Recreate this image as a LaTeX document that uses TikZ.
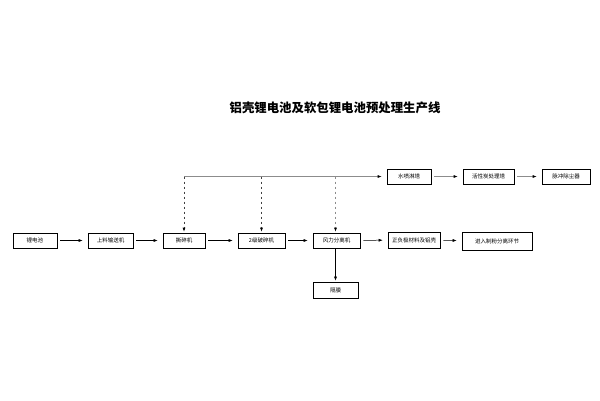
\documentclass[tikz,border=0pt]{standalone}
\usepackage{fontspec}
\newfontfamily\cjk{Noto Sans CJK SC}
\usetikzlibrary{arrows.meta}
\tikzset{
  box/.style={draw=black, line width=0.6pt, minimum height=15pt, inner sep=0pt, font=\cjk\fontsize{5.5}{6}\selectfont, fill=white},
  flow/.style={draw=black, line width=0.5pt, -{Latex[length=4pt,width=3pt]}, shorten >=5pt, shorten <=3pt},
  gas/.style={draw=black!45, line width=0.6pt},
  gasarr/.style={draw=black!45, line width=0.6pt, -{Latex[length=4pt,width=3pt,color=black]}, shorten >=5pt, shorten <=3pt},
  drop/.style={draw=black!75, line width=0.6pt, dashed, dash pattern=on 2.5pt off 2.5pt, -{Latex[length=4pt,width=3pt,color=black]}, shorten >=1pt}
}
\begin{document}
\begin{tikzpicture}[x=1pt,y=-1pt]
\useasboundingbox (0,0) rectangle (600,400);
\node[font=\cjk\bfseries\fontsize{12.4}{14}\selectfont] (title) at (335,108) {铝壳锂电池及软包锂电池预处理生产线};
% main row
\node[box, minimum width=44pt] (li) at (35,240.5) {锂电池};
\node[box, minimum width=45pt] (feed) at (110.5,240.5) {上料输送机};
\node[box, minimum width=42pt] (shred) at (184,240.5) {撕碎机};
\node[box, minimum width=47pt] (crush) at (261.5,240.5) {2级破碎机};
\node[box, minimum width=47pt] (wind) at (336.5,240.5) {风力分离机};
\node[box, minimum width=52pt, minimum height=16pt] (mat) at (414,240) {正负极材料及铝壳};
\node[box, minimum width=70pt, minimum height=18pt] (next) at (497,241) {进入制粉分离环节};
% top row
\node[box, minimum width=44pt] (spray) at (409,176.5) {水喷淋塔};
\node[box, minimum width=51pt] (carbon) at (488.5,176.5) {活性炭处理塔};
\node[box, minimum width=48pt] (pulse) at (566,176.5) {脉冲除尘器};
% bottom
\node[box, minimum width=45pt, minimum height=16pt] (sep) at (335.5,290) {隔膜};
% gas collection line
\coordinate (g1) at (184,176.5);
\coordinate (g2) at (261.5,176.5);
\coordinate (g3) at (335.5,176.5);
\draw[gasarr, shorten <=0pt] (g1) -- (spray);
\draw[gasarr] (spray) -- (carbon);
\draw[gasarr] (carbon) -- (pulse);
\draw[drop] (g1) -- (shred.north);
\draw[drop] (g2) -- (crush.north);
\draw[drop, draw=black!45] (g3) -- (wind.north -| g3);
% flow
\draw[flow] (li) -- (feed);
\draw[flow] (feed) -- (shred);
\draw[flow] (shred) -- (crush);
\draw[flow] (crush) -- (wind);
\draw[flow] (wind) -- (mat);
\draw[flow] (mat) -- (next);
\draw[flow, shorten <=0pt, shorten >=1pt] (wind.south -| sep.north) -- (sep.north);
\end{tikzpicture}
\end{document}
